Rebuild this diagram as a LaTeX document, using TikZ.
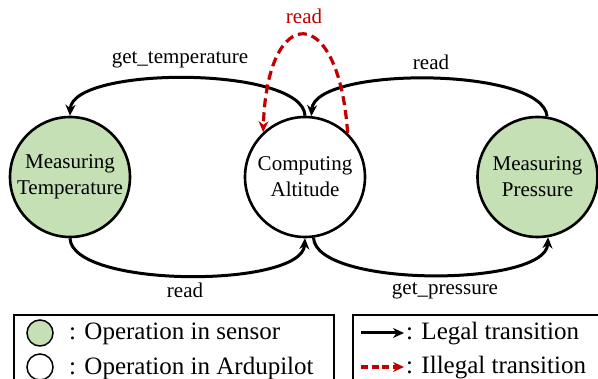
\documentclass[tikz,border=0pt]{standalone}
\usepackage{fontspec}
\setmainfont{Liberation Serif}
\usetikzlibrary{arrows.meta}
\definecolor{sensorgreen}{RGB}{197,224,180}
\definecolor{illred}{RGB}{192,0,0}
\tikzset{
  state/.style={circle, draw=black, line width=2.6pt, minimum size=120pt, inner sep=0pt, align=center, font=\fontsize{21}{26}\selectfont},
  sensor/.style={state, fill=sensorgreen},
  legal/.style={line width=3pt, -{Stealth[length=11pt,width=10pt]}},
  illegal/.style={line width=3.2pt, draw=illred, dash pattern=on 9pt off 5pt, -{Stealth[length=11pt,width=10pt]}},
  lbl/.style={font=\fontsize{21}{24}\selectfont, inner sep=0pt},
  legbox/.style={draw=black, line width=1.5pt},
  legtext/.style={font=\fontsize{25}{28}\selectfont, anchor=west, inner sep=0pt},
  legcirc/.style={circle, draw=black, line width=1.5pt, minimum size=26pt, inner sep=0pt}
}
\begin{document}
\begin{tikzpicture}[x=1pt,y=-1pt]
\clip (0,0) rectangle (598,379);
\fill[white] (0,0) rectangle (598,379);
% states
\node[sensor] (temp) at (70,177) {Measuring\\Temperature};
\node[state] (alt) at (305,177) {Computing\\Altitude};
\node[sensor] (pres) at (537.5,177) {Measuring\\Pressure};
% legal transitions
\draw[legal] (alt.north) .. controls +(-2,-50) and +(2,-50) .. (temp.north);
\draw[legal] (pres.81) .. controls +(-4,-50) and +(3,-50) .. (alt.84);
\draw[legal] (temp.south) .. controls +(2,50) and +(-3,50) .. (alt.south);
\draw[legal] (alt.-82) .. controls +(2,50) and +(-3,50) .. (pres.-80);
% illegal transition
\draw[illegal] (alt.46) .. controls (339,2) and (267,2) .. (alt.133);
% labels
\node[lbl] (l1) at (180,60) {get\_temperature};
\node[lbl] (l2) at (431,62) {read};
\node[lbl] (l3) at (185,290) {read};
\node[lbl] (l4) at (445,291) {get\_pressure};
\node[lbl, text=illred] (l5) at (304,16) {read};
% legend
\draw[legbox] (14,315) rectangle (334,390);
\draw[legbox] (353,315) rectangle (610,390);
\node[legcirc, fill=sensorgreen] (lc1) at (40,333) {};
\node[legcirc, fill=white] (lc2) at (40,367) {};
\node[legtext] (lt1) at (69,334) {: Operation in sensor};
\node[legtext] (lt2) at (69,368) {: Operation in Ardupilot};
\coordinate (la1) at (361,333);
\coordinate (lb1) at (404,333);
\coordinate (la2) at (361,367);
\coordinate (lb2) at (404,367);
\draw[legal] (la1) -- (lb1);
\draw[illegal, dash pattern=on 7pt off 3.5pt] (la2) -- (lb2);
\node[legtext] (lt3) at (406,334) {: Legal transition};
\node[legtext] (lt4) at (406,368) {: Illegal transition};
\end{tikzpicture}
\end{document}
